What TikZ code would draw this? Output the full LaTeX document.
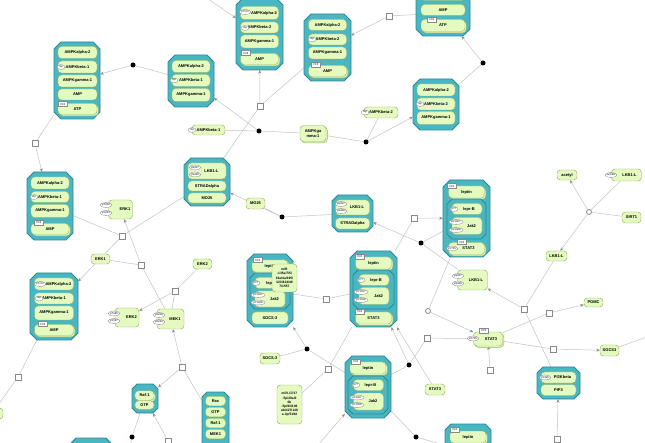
\documentclass[tikz,border=0pt]{standalone}
\usepackage{fontspec}
\newfontfamily\labf{Liberation Sans}
\usetikzlibrary{arrows.meta,shapes.geometric,shadows,fit}
\definecolor{cteal}{HTML}{4AB6C1}
\definecolor{cdark}{HTML}{2B8A95}
\definecolor{gfill}{HTML}{E4FABF}
\definecolor{gline}{HTML}{96B464}
\definecolor{lnc}{HTML}{C4C4C4}
\definecolor{tipc}{HTML}{8C8C8C}
\definecolor{svl}{HTML}{8A8A8A}
\newcommand\myEntFont{\labf\bfseries\fontsize{4}{4.6}\selectfont}
\newcommand\myNoteFont{\labf\bfseries\fontsize{3.3}{4.2}\selectfont}
\newcommand\mySvFont{\labf\fontsize{2.7}{3}\selectfont}
\newcommand\myUoiFont{\labf\fontsize{3}{3.2}\selectfont}
\pgfdeclarelayer{back}\pgfdeclarelayer{edges}
\pgfsetlayers{back,edges,main}
\tikzset{
 cpx/.style={fill=cteal, draw=cdark, line width=0.8pt},
 ent/.style={draw=gline, fill=gfill, rounded corners=3.5pt, line width=0.45pt, inner sep=0pt, font=\myEntFont, align=center, text=black},
 entm/.style={ent, copy shadow={shadow xshift=1.3pt, shadow yshift=-1.3pt}},
 note/.style={ent, font=\myNoteFont},
 sz/.style 2 args={minimum width=#1pt, minimum height=#2pt},
 sv/.style={ellipse, draw=svl, fill=white, line width=0.35pt, inner xsep=0.3pt, inner ysep=0pt, minimum height=4.8pt, minimum width=8pt, font=\mySvFont},
 uoi/.style={rectangle, draw=svl, fill=white, line width=0.35pt, inner sep=0.4pt, minimum width=9pt, minimum height=5pt, font=\myUoiFont},
 proc/.style={rectangle, draw=svl, fill=white, line width=0.45pt, minimum size=6pt, inner sep=0pt},
 assoc/.style={circle, fill=black, minimum size=5pt, inner sep=0pt},
 ring/.style={circle, draw=svl, fill=white, line width=0.8pt, minimum size=5pt, inner sep=0pt},
 ln/.style={draw=lnc, line width=0.5pt},
 ar/.style={ln, -{Stealth[length=3.5pt,width=3pt,color=tipc]}},
}
\newcommand\cpxbox[6]{%
  \draw[cpx] (#2+#6,#3) -- (#4-#6,#3) -- (#4,#3+#6) -- (#4,#5-#6) -- (#4-#6,#5) -- (#2+#6,#5) -- (#2,#5-#6) -- (#2,#3+#6) -- cycle;
  \coordinate (#1nw) at (#2,#3); \coordinate (#1se) at (#4,#5);
  \node[fit=(#1nw)(#1se), inner sep=0pt] (#1) {};
}
\begin{document}
\begin{tikzpicture}[x=1pt,y=-1pt]
\useasboundingbox (0,0) rectangle (645,443);
\begin{pgfonlayer}{back}\fill[white] (0,0) rectangle (645,443);\end{pgfonlayer}

% ---- complex A
\cpxbox{A}{54}{42}{100}{119}{7}
\node[ent,sz={39}{12}] (a1) at (77.5,52.5) {AMPKalpha-2};
\node[ent,sz={39}{12}] (a2) at (77.5,67) {AMPKbeta-1};
\node[sv] (a2s) at (61,67) {mp};
\node[ent,sz={39}{12}] (a3) at (77.5,81) {AMPKgamma-1};
\node[ent,sz={39}{11}] (a4) at (77.5,94.5) {AMP};
\node[entm,sz={39}{11}] (a5) at (77.5,109) {ATP};
\node[uoi] (a5u) at (63,104) {N:2};
% ---- complex B
\cpxbox{B}{168}{55}{214}{107}{7}
\node[ent,sz={38}{12}] (b1) at (191,66.5) {AMPKalpha-2};
\node[ent,sz={38}{12}] (b2) at (191,80.5) {AMPKbeta-1};
\node[sv] (b2s) at (174,80.5) {mp};
\node[ent,sz={38}{13}] (b3) at (191,95) {AMPKgamma-1};
% ---- complex C
\cpxbox{C}{236}{-2}{283}{70}{7}
\node[ent,sz={38}{13}] (c1) at (259.5,13) {\hspace{9pt}AMPKalpha-2};
\node[sv] (c1s) at (245,12) {pT172};
\node[ent,sz={38}{11}] (c2) at (259.5,27.5) {AMPKbeta-2};
\node[sv] (c2s) at (245,28) {mp};
\node[ent,sz={38}{13}] (c3) at (259.5,41.5) {AMPKgamma-1};
\node[entm,sz={38}{11}] (c4) at (259.5,59) {AMP};
\node[uoi] (c4u) at (246,53) {N:3};
% ---- complex D
\cpxbox{D}{304}{14}{351}{81}{7}
\node[ent,sz={38}{11}] (d1) at (327.5,25) {AMPKalpha-2};
\node[ent,sz={38}{11}] (d2) at (327.5,39.5) {AMPKbeta-2};
\node[sv] (d2s) at (312,39.5) {mp};
\node[ent,sz={38}{12}] (d3) at (327.5,53) {AMPKgamma-1};
\node[entm,sz={38}{11}] (d4) at (327.5,71) {AMP};
\node[uoi] (d4u) at (316,64.5) {N:3};
% ---- complex E
\cpxbox{E}{416}{-10}{470}{36}{7}
\node[ent,sz={44}{11}] (e0) at (443,-5) {};
\node[ent,sz={44}{11}] (e1) at (443,10) {AMP};
\node[entm,sz={44}{12}] (e2) at (443,25.5) {ATP};
\node[uoi] (e2u) at (432,19.5) {N:2};
% ---- complex F
\cpxbox{F}{413}{79}{459}{130}{7}
\node[ent,sz={38}{12}] (f1) at (436,90) {AMPKalpha-2};
\node[ent,sz={38}{12}] (f2) at (436,104) {AMPKbeta-2};
\node[sv] (f2s) at (420,104) {mp};
\node[ent,sz={38}{13}] (f3) at (436,118) {AMPKgamma-1};
% ---- complex G
\cpxbox{G}{27}{172}{73}{240}{7}
\node[ent,sz={38}{12}] (g1) at (50,183) {AMPKalpha-2};
\node[ent,sz={38}{11}] (g2) at (50,197) {AMPKbeta-1};
\node[sv] (g2s) at (34,197) {mp};
\node[ent,sz={38}{13}] (g3) at (50,211) {AMPKgamma-1};
\node[entm,sz={38}{11}] (g4) at (50,229) {AMP};
\node[uoi] (g4u) at (39,222.5) {N:3};
% ---- complex Q
\cpxbox{Q}{30}{273}{78}{340}{7}
\node[ent,sz={39}{12}] (q1) at (54,284) {\hspace{9pt}AMPKalpha-2};
\node[sv] (q1s) at (40,284) {pT172};
\node[ent,sz={39}{11}] (q2) at (54,298.5) {AMPKbeta-1};
\node[sv] (q2s) at (39,298.5) {mp};
\node[ent,sz={39}{14}] (q3) at (54,313) {AMPKgamma-1};
\node[entm,sz={39}{11}] (q4) at (54,330) {AMP};
\node[uoi] (q4u) at (43,324) {N:3};
% ---- complex H
\cpxbox{H}{184}{158}{230}{206}{7}
\node[ent,sz={38}{16}] (h1) at (207,171) {\hspace{9pt}LKB1-L};
\node[sv] (h1s) at (195,167.5) {pS307};
\node[sv] (h1t) at (195,174.5) {pS428};
\node[ent,sz={38}{10}] (h2) at (207,186) {STRADalpha};
\node[ent,sz={38}{10}] (h3) at (207,198) {MO25};
% ---- complex I
\cpxbox{I}{332}{195}{373}{232}{6}
\node[ent,sz={34}{15}] (i1) at (352.5,207.5) {\hspace{9pt}LKB1-L};
\node[sv] (i1s) at (341,204) {pS307};
\node[sv] (i1t) at (341,211) {pS428};
\node[ent,sz={34}{11}] (i2) at (352.5,223.5) {STRADalpha};
% ---- complex J
\cpxbox{J}{443}{180}{490}{257}{7}
\node[entm,sz={36}{12}] (j1) at (466.5,192) {leptin};
\node[uoi] (j1u) at (452,186) {N:2};
\cpxbox{Jin}{447}{199}{486}{239}{5}
\node[ent,sz={30}{11}] (j2) at (467,209) {\hspace{4pt}lepr-B};
\node[sv] (j2s) at (454,209) {pY?};
\node[ent,sz={30}{17}] (j3) at (467,226) {\hspace{9pt}Jak2};
\node[sv] (j3s) at (456,222) {pY1007};
\node[sv] (j3t) at (456,230) {pY1008};
\node[entm,sz={36}{12}] (j4) at (466.5,248.5) {\hspace{4pt}STAT3};
\node[uoi] (j4u) at (462,242) {N:2};
\node[sv] (j4s) at (452,248.5) {pY705};
% ---- complex K
\cpxbox{K}{247}{254}{293}{327}{7}
\node[entm,sz={36}{12}] (k1) at (270,266) {leptin};
\node[uoi] (k1u) at (258,260) {N:2};
\cpxbox{Kin}{250}{273}{290}{309}{5}
\node[ent,sz={30}{11}] (k2) at (270,283) {\hspace{4pt}lepr-B};
\node[sv] (k2s) at (256,283) {pY?};
\node[ent,sz={30}{16}] (k3) at (270,299) {\hspace{9pt}Jak2};
\node[sv] (k3s) at (258,295) {pY1007};
\node[sv] (k3t) at (258,302.5) {pY1008};
\node[ent,sz={36}{12}] (k4) at (270,318) {SOCS-3};
\node[note,sz={25}{28}] (kn) at (284.5,278) {miR\\-135a/7/5/\\16a/4a/195/\\323/424/49\\7/1557};
% ---- complex L
\cpxbox{L}{350}{251}{397}{327}{7}
\node[entm,sz={36}{12}] (l1) at (373.5,263) {leptin};
\node[uoi] (l1u) at (360,256.5) {N:2};
\cpxbox{Lin}{353}{270}{394}{309}{5}
\node[ent,sz={30}{11}] (l2) at (374,280) {\hspace{4pt}lepr-B};
\node[sv] (l2s) at (361,280) {pY?};
\node[ent,sz={30}{17}] (l3) at (374,296) {\hspace{9pt}Jak2};
\node[sv] (l3s) at (361,292) {pY1007};
\node[sv] (l3t) at (361,300) {pY1008};
\node[entm,sz={36}{12}] (l4) at (373.5,318) {STAT3};
\node[uoi] (l4u) at (360,311.5) {N:2};
% ---- complex M
\cpxbox{M}{345}{356}{391}{418}{7}
\node[entm,sz={36}{12}] (m1) at (368,368) {leptin};
\node[uoi] (m1u) at (356,361.5) {N:2};
\cpxbox{Min}{348}{376}{388}{414}{5}
\node[ent,sz={30}{11}] (m2) at (368.5,385) {\hspace{4pt}lepr-B};
\node[sv] (m2s) at (356,385) {pY?};
\node[ent,sz={30}{17}] (m3) at (368.5,401.5) {\hspace{9pt}Jak2};
\node[sv] (m3s) at (357,397.5) {pY1007};
\node[sv] (m3t) at (357,405) {pY1008};
% ---- complex N
\cpxbox{N}{537}{367}{580}{399}{6}
\node[ent,sz={35}{11}] (n1) at (558.5,377.5) {\hspace{8pt}PI3Kbeta};
\node[sv] (n1s) at (545,377.5) {pY316};
\node[ent,sz={35}{11}] (n2) at (558.5,390) {PIP3};
% ---- complex O
\cpxbox{O}{132}{384}{158}{413}{5}
\node[entm,sz={19}{9.5}] (o1) at (144.5,395.5) {Raf-1};
\node[ent,sz={19}{8.5}] (o2) at (144.5,405) {GTP};
% ---- complex P
\cpxbox{P}{202}{392}{229}{455}{5}
\node[ent,sz={20}{9.5}] (p1) at (215.5,401) {Ras};
\node[ent,sz={20}{9.5}] (p2) at (215.5,412) {GTP};
\node[ent,sz={20}{9.5}] (p3) at (215.5,423) {Raf-1};
\node[ent,sz={20}{9.5}] (p4) at (215.5,434) {MEK1};
% ---- partial complexes at bottom
\cpxbox{BL}{70}{438}{112}{480}{6}
\cpxbox{BR}{445}{424}{491}{480}{6}
\node[entm,sz={36}{12}] (br1) at (468,437) {leptin};
\node[uoi] (br1u) at (455,429.5) {N:2};

% ---- simple entities
\node[ent,sz={33}{10}] (nb1) at (208.5,130) {AMPKbeta-1};
\node[sv] (nb1s) at (192,130) {mp};
\node[entm,sz={26}{16}] (ng1) at (313,133.5) {AMPKga\\mma-1};
\node[ent,sz={34}{11}] (nb2) at (381,112.5) {AMPKbeta-2};
\node[sv] (nb2s) at (365,112.5) {mp};
\node[ent,sz={24}{19}] (erk1p) at (120.5,209.5) {\hspace{9pt}ERK1};
\node[sv] (erk1ps) at (106,205) {pT202};
\node[sv] (erk1pt) at (106,213) {pY204};
\node[ent,sz={19}{10}] (erk1) at (100.5,259) {ERK1};
\node[ent,sz={19}{10}] (erk2) at (202.5,264) {ERK2};
\node[ent,sz={24}{19}] (erk2p) at (127,317.5) {\hspace{9pt}ERK2};
\node[sv] (erk2ps) at (114,313.5) {pT185};
\node[sv] (erk2pt) at (114,321) {pY187};
\node[ent,sz={27}{20}] (mek1p) at (170.5,319) {\hspace{9pt}MEK1};
\node[sv] (mek1ps) at (159,315) {pS218};
\node[sv] (mek1pt) at (159,322) {pS222};
\node[ent,sz={19}{11}] (mo25) at (255.5,203.5) {MO25};
\node[ent,sz={20}{10}] (acetyl) at (567,175) {acetyl};
\node[ent,sz={30}{12}] (lkbac) at (626.5,175) {\hspace{6pt}LKB1-L};
\node[sv] (lkbacs) at (611,175) {acK48};
\node[ent,sz={19}{11}] (sirt1) at (631.5,217.5) {SIRT1};
\node[ent,sz={21}{10}] (lkb) at (556.5,256) {LKB1-L};
\node[ent,sz={30}{20}] (lkbp) at (472.5,280) {\hspace{7pt}LKB1-L};
\node[sv] (lkbps) at (458,276) {pS307};
\node[sv] (lkbpt) at (458,283.5) {pS428};
\node[ent,sz={19}{9}] (pomc) at (593.5,302.5) {POMC};
\node[ent,sz={19}{11}] (socs3r) at (609.5,350.5) {SOCS3};
\node[entm,sz={29}{14}] (stat3p) at (488,339) {\hspace{6pt}STAT3};
\node[uoi] (stat3pu) at (484,330.5) {N:2};
\node[sv] (stat3ps) at (473,338.5) {pY705};
\node[ent,sz={20}{11}] (stat3) at (435,389.5) {STAT3};
\node[ent,sz={20}{11}] (socs3l) at (270,358.5) {SOCS-3};
\node[note,sz={25}{39}] (mir2) at (289.5,404.5) {miR-17/17\\-5p/20a/2\\0b\\-5p/93/106\\ab/427/148\\a-3p/519d};
\node[ent,sz={22}{11}] (leftnode) at (-8,413.5) {};

% ---- process / association glyphs
\node[proc] (S1) at (35,143) {};
\node[proc] (S2) at (260,106) {};
\node[proc] (S3) at (389,16) {};
\node[proc] (S4) at (122,236) {};
\node[proc] (S5) at (141,265) {};
\node[proc] (S6) at (175,291) {};
\node[proc] (S7) at (414,218) {};
\node[proc] (S8) at (18,377) {};
\node[proc] (S9) at (182,367) {};
\node[proc] (S10) at (168,441) {};
\node[proc] (S11) at (326,299) {};
\node[proc] (S12) at (328,369) {};
\node[proc] (S13) at (427,338) {};
\node[proc] (S14) at (524,309) {};
\node[proc] (S15) at (549,313) {};
\node[proc] (S16) at (553,349) {};
\node[proc] (S17) at (490,370) {};
\node[proc] (S18) at (557,439) {};
\node[assoc] (D1) at (133,65) {};
\node[assoc] (D2) at (483,63) {};
\node[assoc] (D3) at (259,131) {};
\node[assoc] (D4) at (366,142) {};
\node[assoc] (D5) at (282,217) {};
\node[assoc] (D6) at (421,243) {};
\node[assoc] (D7) at (307,349) {};
\node[assoc] (D8) at (409,365) {};
\node[assoc] (D9) at (416,437) {};
\node[assoc] (D10) at (132,437) {};
\node[ring] (R1) at (428,311) {};
\node[ring] (R2) at (589,212) {};
\coordinate (cin) at (205,-3);
\coordinate (blc) at (129,452);
\coordinate (s10c) at (171,452);
\coordinate (min) at (312,452);
\coordinate (socsout) at (652,335);

% ---- connectors
\begin{pgfonlayer}{edges}
\draw[ln] (B) -- (D1); \draw[ar] (D1) -- (A);
\draw[ln] (A) -- (S1); \draw[ar] (S1) -- (G);
\draw[ar] (cin) -- (C);
\draw[ar] (S2) -- (C); \draw[ln] (S2) -- (D); \draw[ln] (S2) -- (H);
\draw[ln] (E) -- (S3); \draw[ar] (S3) -- (D);
\draw[ln] (nb1) -- (D3); \draw[ln] (ng1) -- (D3); \draw[ar] (D3) -- (B);
\draw[ln] (ng1) -- (D4); \draw[ln] (nb2) -- (D4); \draw[ar] (D4) -- (F);
\draw[ln] (F) -- (D2); \draw[ar] (D2) -- (E);
\draw[ln] (G) -- (S4); \draw[ln] (H) -- (S4); \draw[ar] (S4) -- (Q);
\draw[ln] (erk1) -- (S5); \draw[ln] (mek1p) -- (S5); \draw[ar] (S5) -- (erk1p);
\draw[ln] (erk2) -- (S6); \draw[ln] (mek1p) -- (S6); \draw[ar] (S6) -- (erk2p);
\draw[ln] (P) -- (S9); \draw[ar] (S9) -- (mek1p); \draw[ar] (S9) -- (O);
\draw[ln] (O) -- (D10); \draw[ln] (D10) -- (blc);
\draw[ln] (s10c) -- (S10); \draw[ar] (S10) -- (O);
\draw[ln] (Q) -- (S8); \draw[ln] (S8) -- (leftnode);
\draw[ln] (mo25) -- (D5); \draw[ln] (I) -- (D5); \draw[ar] (D5) -- (H);
\draw[ln] (L) -- (S7); \draw[ar] (S7) -- (J);
\draw[ar] (D6) -- (I); \draw[ln] (lkbp) -- (D6); \draw[ln] (D6) -- (J);
\draw[ln] (K) -- (S11); \draw[ln] (S11) -- (L);
\draw[ar] (D7) -- (K); \draw[ln] (socs3l) -- (D7); \draw[ln] (M) -- (D7);
\draw[ln] (mir2) -- (S12); \draw[ln] (S12) -- (L);
\draw[ar] (min) -- (M);
\draw[ar] (D8) -- (L); \draw[ln] (M) -- (D8); \draw[ln] (D8) -- (S13);
\draw[ln] (S13) -- (stat3p);
\draw[ln] (J) -- (R1); \draw[ar] (R1) -- (stat3p);
\draw[ar] (stat3) -- (L);
\draw[ln] (M) -- (D9); \draw[ln] (D9) -- (BR);
\draw[ln] (stat3p) -- (S15); \draw[ar] (S15) -- (pomc);
\draw[ln] (stat3p) -- (S16); \draw[ar] (S16) -- (socs3r);
\draw[ln] (socs3r) -- (socsout);
\draw[ar] (S17) -- (stat3p);
\draw[ln] (lkb) -- (S14); \draw[ar] (S14) -- (lkbp); \draw[ln] (N) -- (S14);
\draw[ar] (S18) -- (N);
\draw[ln] (lkbac) -- (R2); \draw[ln] (sirt1) -- (R2);
\draw[ar] (R2) -- (acetyl); \draw[ar] (R2) -- (lkb);
\end{pgfonlayer}
\end{tikzpicture}
\end{document}
